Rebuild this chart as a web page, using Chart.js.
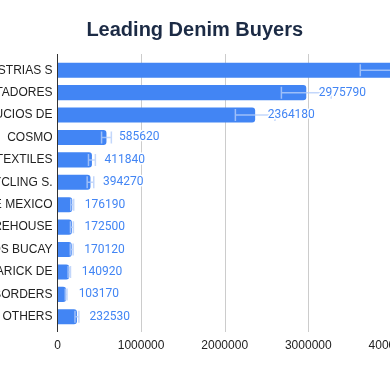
<!DOCTYPE html>
<html>
<head>
<meta charset="utf-8">
<script src="https://cdn.jsdelivr.net/npm/chart.js@4.4.1/dist/chart.umd.min.js"></script>
<style>
    html, body { margin: 0; padding: 0; background: #fff; }
    #wrap { position: relative; width: 390px; height: 371px; overflow: hidden; }
    #buyersChart { position: absolute; left: -86px; top: 0; }
</style>
</head>
<body>
<div id="wrap"><canvas id="buyersChart" width="596" height="371"></canvas></div>
<script>
// data
const buyerNames = [
    "INDUSTRIAS S", "EXPORTADORES", "PRODUCIOS DE", "COSMO", "TEXTILES",
    "RECYCLING S.", "DE MEXICO", "WAREHOUSE", "HERMANOS BUCAY", "WARICK DE",
    "BORDERS", "OTHERS"
];
const buyerValues = [4024300, 2975790, 2364180, 585620, 411840, 394270, 176190, 172500, 170120, 140920, 103170, 232530];
const errorMargins = [402430, 297579, 236418, 58562, 41184, 39427, 17619, 17250, 17012, 14092, 10317, 23253];
const xTickValues = [0, 1000000, 2000000, 3000000, 4000000, 5000000];

const barBlue = "#4285f4";
const labelFont = "'Liberation Sans', Arial, sans-serif";

// gridlines + axis line that run a little past the plot, error bars and value labels
const extrasPlugin = {
    id: "extras",
    beforeDatasetsDraw(chart) {
        const { ctx, chartArea, scales } = chart;
        const x = scales.x;
        ctx.save();
        ctx.lineWidth = 1;
        ctx.strokeStyle = "#cccccc";
        x.ticks.forEach(t => {
            if (t.value === 0) return;
            const px = Math.round(x.getPixelForValue(t.value)) + 0.5;
            ctx.beginPath();
            ctx.moveTo(px, chartArea.top - 5);
            ctx.lineTo(px, chartArea.bottom + 4);
            ctx.stroke();
        });
        ctx.restore();
    },
    afterDatasetsDraw(chart) {
        const { ctx, chartArea, scales } = chart;
        const x = scales.x;
        const meta = chart.getDatasetMeta(0);

        ctx.save();
        // error bars
        ctx.strokeStyle = "rgba(180, 205, 250, 0.8)";
        ctx.lineWidth = 1.5;
        meta.data.forEach((bar, i) => {
            const lo = x.getPixelForValue(buyerValues[i] - errorMargins[i]);
            const hi = x.getPixelForValue(buyerValues[i] + errorMargins[i]);
            const y = bar.y;
            ctx.beginPath();
            ctx.moveTo(lo, y);
            ctx.lineTo(hi, y);
            ctx.moveTo(lo, y - 6);
            ctx.lineTo(lo, y + 6);
            ctx.moveTo(hi, y - 6);
            ctx.lineTo(hi, y + 6);
            ctx.stroke();
        });

        // axis line
        ctx.strokeStyle = "#333333";
        ctx.lineWidth = 1;
        ctx.beginPath();
        ctx.moveTo(chartArea.left, chartArea.top - 5);
        ctx.lineTo(chartArea.left, chartArea.bottom + 4);
        ctx.stroke();

        // value labels with a white aura
        ctx.font = "12px Roboto, sans-serif";
        ctx.textAlign = "left";
        ctx.textBaseline = "middle";
        ctx.lineJoin = "round";
        meta.data.forEach((bar, i) => {
            const tx = bar.x + 12.5;
            const txt = String(buyerValues[i]);
            ctx.strokeStyle = "#ffffff";
            ctx.lineWidth = 3;
            ctx.strokeText(txt, tx, bar.y);
            ctx.fillStyle = barBlue;
            ctx.fillText(txt, tx, bar.y);
        });
        ctx.restore();
    }
};

const ctx = document.getElementById("buyersChart").getContext("2d");
new Chart(ctx, {
    type: "bar",
    data: {
        labels: buyerNames,
        datasets: [{
            label: "Buyers",
            data: buyerValues,
            backgroundColor: barBlue,
            borderRadius: 3,
            categoryPercentage: 1,
            barPercentage: 0.67
        }]
    },
    options: {
        indexAxis: "y",
        responsive: false,
        animation: false,
        events: [],
        devicePixelRatio: 1,
        layout: { padding: { left: 0, right: 34.5, top: 0, bottom: 0 } },
        scales: {
            x: {
                type: "linear",
                min: 0,
                max: 5000000,
                afterBuildTicks: (scale) => {
                    scale.ticks = xTickValues.map(v => ({ value: v }));
                },
                afterFit: (scale) => { scale.height = 43; },
                grid: { display: false, drawTicks: false },
                border: { display: false },
                ticks: {
                    padding: 10,
                    maxRotation: 0,
                    color: "#222222",
                    font: { family: labelFont, size: 12 },
                    callback: (v) => String(v)
                }
            },
            y: {
                afterFit: (scale) => { scale.width = 143.5; },
                grid: { display: false, drawTicks: false },
                border: { display: false },
                ticks: {
                    padding: 5,
                    autoSkip: false,
                    color: "#222222",
                    font: { family: labelFont, size: 12 }
                }
            }
        },
        plugins: {
            legend: { display: false },
            tooltip: { enabled: false },
            title: {
                display: true,
                text: "Leading Denim Buyers",
                color: "#1c2b45",
                font: { family: labelFont, size: 20, weight: "bold" },
                padding: { top: 18, bottom: 17 }
            }
        }
    },
    plugins: [extrasPlugin]
});
</script>
</body>
</html>
